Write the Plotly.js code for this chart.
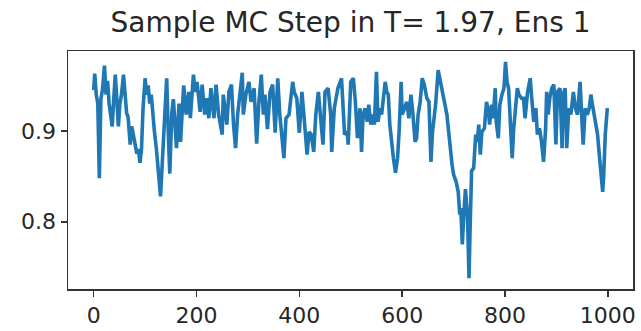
<!DOCTYPE html>
<html>
<head>
<meta charset="utf-8">
<script src="https://cdn.plot.ly/plotly-3.0.1.min.js"></script>
<style>html,body{margin:0;padding:0;background:#fff;}#chart{width:641px;height:331px;}</style>
</head>
<body>
<div id="chart"></div>
<script>
const steps = [
0,2,5,8,11,14,17,21,24,27,30,33,36,39,42,45,48,51,54,58,61,64,67,71,74,77,80,84,87,90,93,96,
100,103,106,109,112,115,118,122,125,128,130,133,136,139,142,145,148,152,155,
161,166,169,175,180,185,188,194,197,201,207,211,216,220,224,228,234,238,243,250,252,259,263,268,272,276,280,283,289,291,296,302,306,312,317,321,326,
330,333,338,343,348,353,358,362,370,374,380,387,390,395,400,405,410,415,419,423,428,432,437,441,446,450,456,461,463,468,475,482,485,488,493,
495,500,505,509,513,518,521,524,528,532,535,539,543,546,550,553,557,560,563,567,570,573,576,580,583,587,591,594,598,600,604,609,613,617,621,625,628,631,635,639,643,648,652,656,659,663,
665,670,673,676,679,683,687,691,694,697,700,705,709,712,714,717,720,723,727,730,732,735,739,743,746,749,752,755,760,764,768,770,774,777,781,783,787,790,794,798,801,804,807,811,814,817,821,824,827,832,
836,839,844,849,852,856,860,863,867,871,875,879,881,884,887,891,895,899,902,907,911,913,917,920,924,928,933,937,941,946,950,952,956,960,964,967,970,973,977,980,984,987,990,992,995,999
];
const values = [
0.945,0.963,0.940,0.930,0.848,0.935,0.945,0.972,0.940,0.955,0.930,0.920,0.905,0.935,0.962,0.935,0.905,0.930,0.940,0.962,0.935,0.920,0.915,0.885,0.905,0.895,0.885,0.875,0.880,0.865,0.880,0.925,
0.958,0.940,0.950,0.930,0.940,0.915,0.900,0.880,0.860,0.844,0.828,0.860,0.900,0.920,0.958,0.900,0.853,0.920,0.935,
0.881,0.930,0.888,0.950,0.918,0.943,0.914,0.962,0.943,0.954,0.921,0.951,0.918,0.936,0.914,0.947,0.914,0.951,0.918,0.896,0.940,0.907,0.943,0.951,0.907,0.881,0.918,0.936,0.964,0.918,0.940,0.954,0.932,0.947,0.886,0.929,0.962,
0.918,0.940,0.902,0.943,0.951,0.898,0.958,0.918,0.870,0.914,0.918,0.954,0.943,0.936,0.898,0.943,0.910,0.874,0.899,0.896,0.877,0.918,0.943,0.918,0.885,0.943,0.947,0.918,0.877,0.925,0.947,0.958,0.925,0.896,0.899,
0.885,0.954,0.958,0.932,0.892,0.925,0.877,0.918,0.925,0.910,0.929,0.907,0.918,0.907,0.965,0.910,0.925,0.918,0.932,0.954,0.943,0.940,0.907,0.881,0.870,0.854,0.870,0.899,0.954,0.918,0.925,0.932,0.914,0.940,0.918,0.888,0.892,0.918,0.932,0.958,0.951,0.936,0.932,0.866,0.899,0.918,
0.929,0.967,0.958,0.951,0.940,0.929,0.918,0.896,0.874,0.863,0.852,0.844,0.833,0.808,0.815,0.775,0.808,0.836,0.808,0.738,0.790,0.856,0.859,0.896,0.888,0.907,0.874,0.899,0.903,0.932,0.921,0.907,0.929,0.914,0.947,0.910,0.892,0.929,0.940,0.947,0.976,0.954,0.947,0.910,0.870,0.903,0.932,0.947,0.940,0.936,
0.936,0.914,0.943,0.958,0.936,0.910,0.925,0.896,0.903,0.888,0.866,0.903,0.943,0.918,0.936,0.947,0.951,0.885,0.943,0.947,0.881,0.940,0.947,0.881,0.925,0.918,0.943,0.925,0.918,0.954,0.907,0.885,0.925,0.918,0.925,0.940,0.929,0.918,0.907,0.896,0.870,0.848,0.833,0.852,0.896,0.925
];
const xTicks = [0, 200, 400, 600, 800, 1000];
const yTicks = [0.8, 0.9];
const titleText = 'Sample MC Step in T= 1.97, Ens 1';

const font = 'DejaVu Sans, sans-serif';
const axisCommon = {
  showline: true, mirror: true, linecolor: '#333', linewidth: 1.5,
  ticks: 'outside', ticklen: 6, tickwidth: 1.5, tickcolor: '#333',
  showgrid: false, zeroline: false,
  tickfont: {family: font, size: 22, color: '#262626'}
};
Plotly.newPlot('chart', [{
  x: steps, y: values, type: 'scatter', mode: 'lines',
  line: {color: '#1f77b4', width: 3.6}
}], {
  width: 641, height: 331,
  margin: {l: 68, r: 8, t: 51, b: 42},
  paper_bgcolor: '#fff', plot_bgcolor: '#fff',
  showlegend: false,
  title: {text: titleText, font: {family: font, size: 28, color: '#262626'},
          x: 0.5, xref: 'paper', xanchor: 'center', y: 0.934, yref: 'container', yanchor: 'middle'},
  xaxis: Object.assign({}, axisCommon, {range: [-49.95, 1048.95], tickvals: xTicks, ticktext: xTicks.map(String)}),
  yaxis: Object.assign({}, axisCommon, {range: [0.726, 0.988], tickvals: yTicks, ticktext: ['0.8', '0.9']})
}, {staticPlot: true, displayModeBar: false});
</script>
</body>
</html>
